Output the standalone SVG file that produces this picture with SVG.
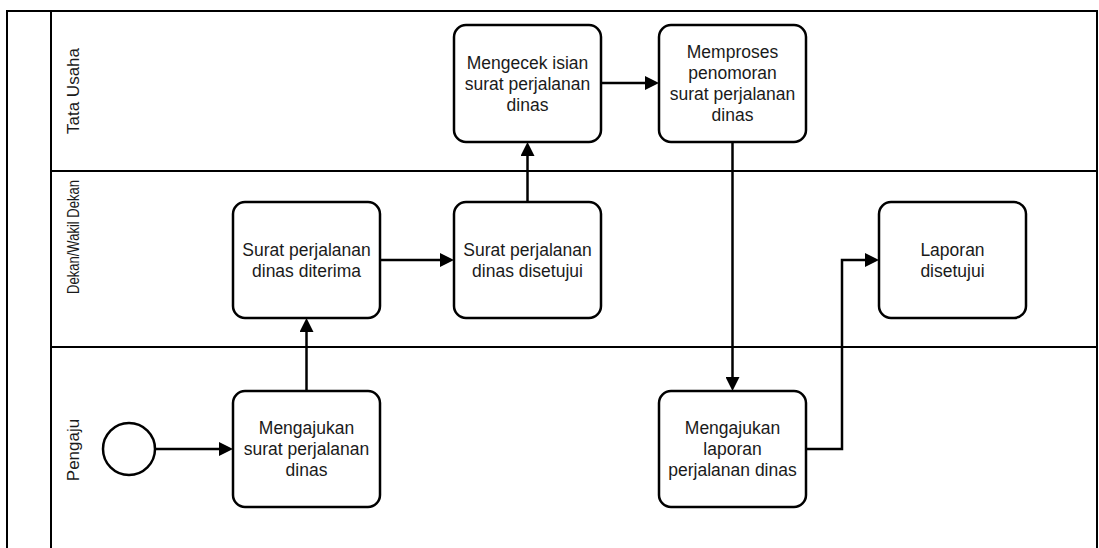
<svg xmlns="http://www.w3.org/2000/svg" width="1099" height="548" viewBox="0 0 1099 548">
  <defs>
    <marker id="arrow" viewBox="0 0 14 14" markerWidth="14" markerHeight="14" refX="0" refY="7" orient="auto" markerUnits="userSpaceOnUse">
      <path d="M0,0 L14,7 L0,14 z" fill="#000"/>
    </marker>
    <style>
      .pool { fill: none; stroke: #000; stroke-width: 2; }
      .task { fill: #fff; stroke: #000; stroke-width: 2.5; }
      .event { fill: #fff; stroke: #000; stroke-width: 2.5; }
      .flow { fill: none; stroke: #000; stroke-width: 2.5; marker-end: url(#arrow); }
      .label { font-family: "Liberation Sans", Arial, sans-serif; font-size: 17.5px; fill: #1a1a1a; text-anchor: middle; }
      .lane { font-family: "Liberation Sans", Arial, sans-serif; font-size: 17px; fill: #1a1a1a; text-anchor: middle; }
    </style>
  </defs>
  <rect width="1099" height="548" fill="#fff"/>

  <!-- Pool frame and lanes -->
  <g id="pool">
    <path class="pool" d="M7,560 V11 H1097 V560"/>
    <path class="pool" d="M51,11 V560"/>
    <path class="pool" d="M51,171 H1097"/>
    <path class="pool" d="M51,347 H1097"/>
  </g>
  <g id="lane-tata-usaha">
    <text class="lane" transform="translate(79,91) rotate(-90)">Tata Usaha</text>
  </g>
  <g id="lane-dekan">
    <text class="lane" transform="translate(79,237) rotate(-90)" textLength="114" lengthAdjust="spacingAndGlyphs">Dekan/Wakil Dekan</text>
  </g>
  <g id="lane-pengaju">
    <text class="lane" transform="translate(79,450) rotate(-90)">Pengaju</text>
  </g>

  <!-- Sequence flows -->
  <g id="connectors">
    <path class="flow" d="M156,449 H219"/>
    <path class="flow" d="M306.5,391 V332"/>
    <path class="flow" d="M380,260 H440"/>
    <path class="flow" d="M527.5,202 V156"/>
    <path class="flow" d="M601,83 H645"/>
    <path class="flow" d="M732.5,142 V377"/>
    <path class="flow" d="M806,449 H842 V260 H865"/>
  </g>

  <!-- Start event -->
  <g id="start">
    <circle class="event" cx="129" cy="449" r="26"/>
  </g>

  <!-- Tasks -->
  <g id="mengajukan-surat">
    <rect class="task" x="233" y="391" width="147" height="116" rx="12"/>
    <text class="label" x="306.5" y="434">Mengajukan</text>
    <text class="label" x="306.5" y="455">surat perjalanan</text>
    <text class="label" x="306.5" y="476">dinas</text>
  </g>
  <g id="surat-diterima">
    <rect class="task" x="233" y="202" width="147" height="116" rx="12"/>
    <text class="label" x="306.5" y="255.5">Surat perjalanan</text>
    <text class="label" x="306.5" y="276.5">dinas diterima</text>
  </g>
  <g id="surat-disetujui">
    <rect class="task" x="454" y="202" width="147" height="116" rx="12"/>
    <text class="label" x="527.5" y="255.5">Surat perjalanan</text>
    <text class="label" x="527.5" y="276.5">dinas disetujui</text>
  </g>
  <g id="mengecek-isian">
    <rect class="task" x="454" y="25" width="147" height="117" rx="12"/>
    <text class="label" x="527.5" y="68.5">Mengecek isian</text>
    <text class="label" x="527.5" y="89.5">surat perjalanan</text>
    <text class="label" x="527.5" y="110.5">dinas</text>
  </g>
  <g id="memproses-penomoran">
    <rect class="task" x="659" y="25" width="147" height="117" rx="12"/>
    <text class="label" x="732.5" y="58">Memproses</text>
    <text class="label" x="732.5" y="79">penomoran</text>
    <text class="label" x="732.5" y="100">surat perjalanan</text>
    <text class="label" x="732.5" y="121">dinas</text>
  </g>
  <g id="mengajukan-laporan">
    <rect class="task" x="659" y="391" width="147" height="116" rx="12"/>
    <text class="label" x="732.5" y="434">Mengajukan</text>
    <text class="label" x="732.5" y="455">laporan</text>
    <text class="label" x="732.5" y="476">perjalanan dinas</text>
  </g>
  <g id="laporan-disetujui">
    <rect class="task" x="879" y="202" width="147" height="116" rx="12"/>
    <text class="label" x="952.5" y="255.5">Laporan</text>
    <text class="label" x="952.5" y="276.5">disetujui</text>
  </g>
</svg>
